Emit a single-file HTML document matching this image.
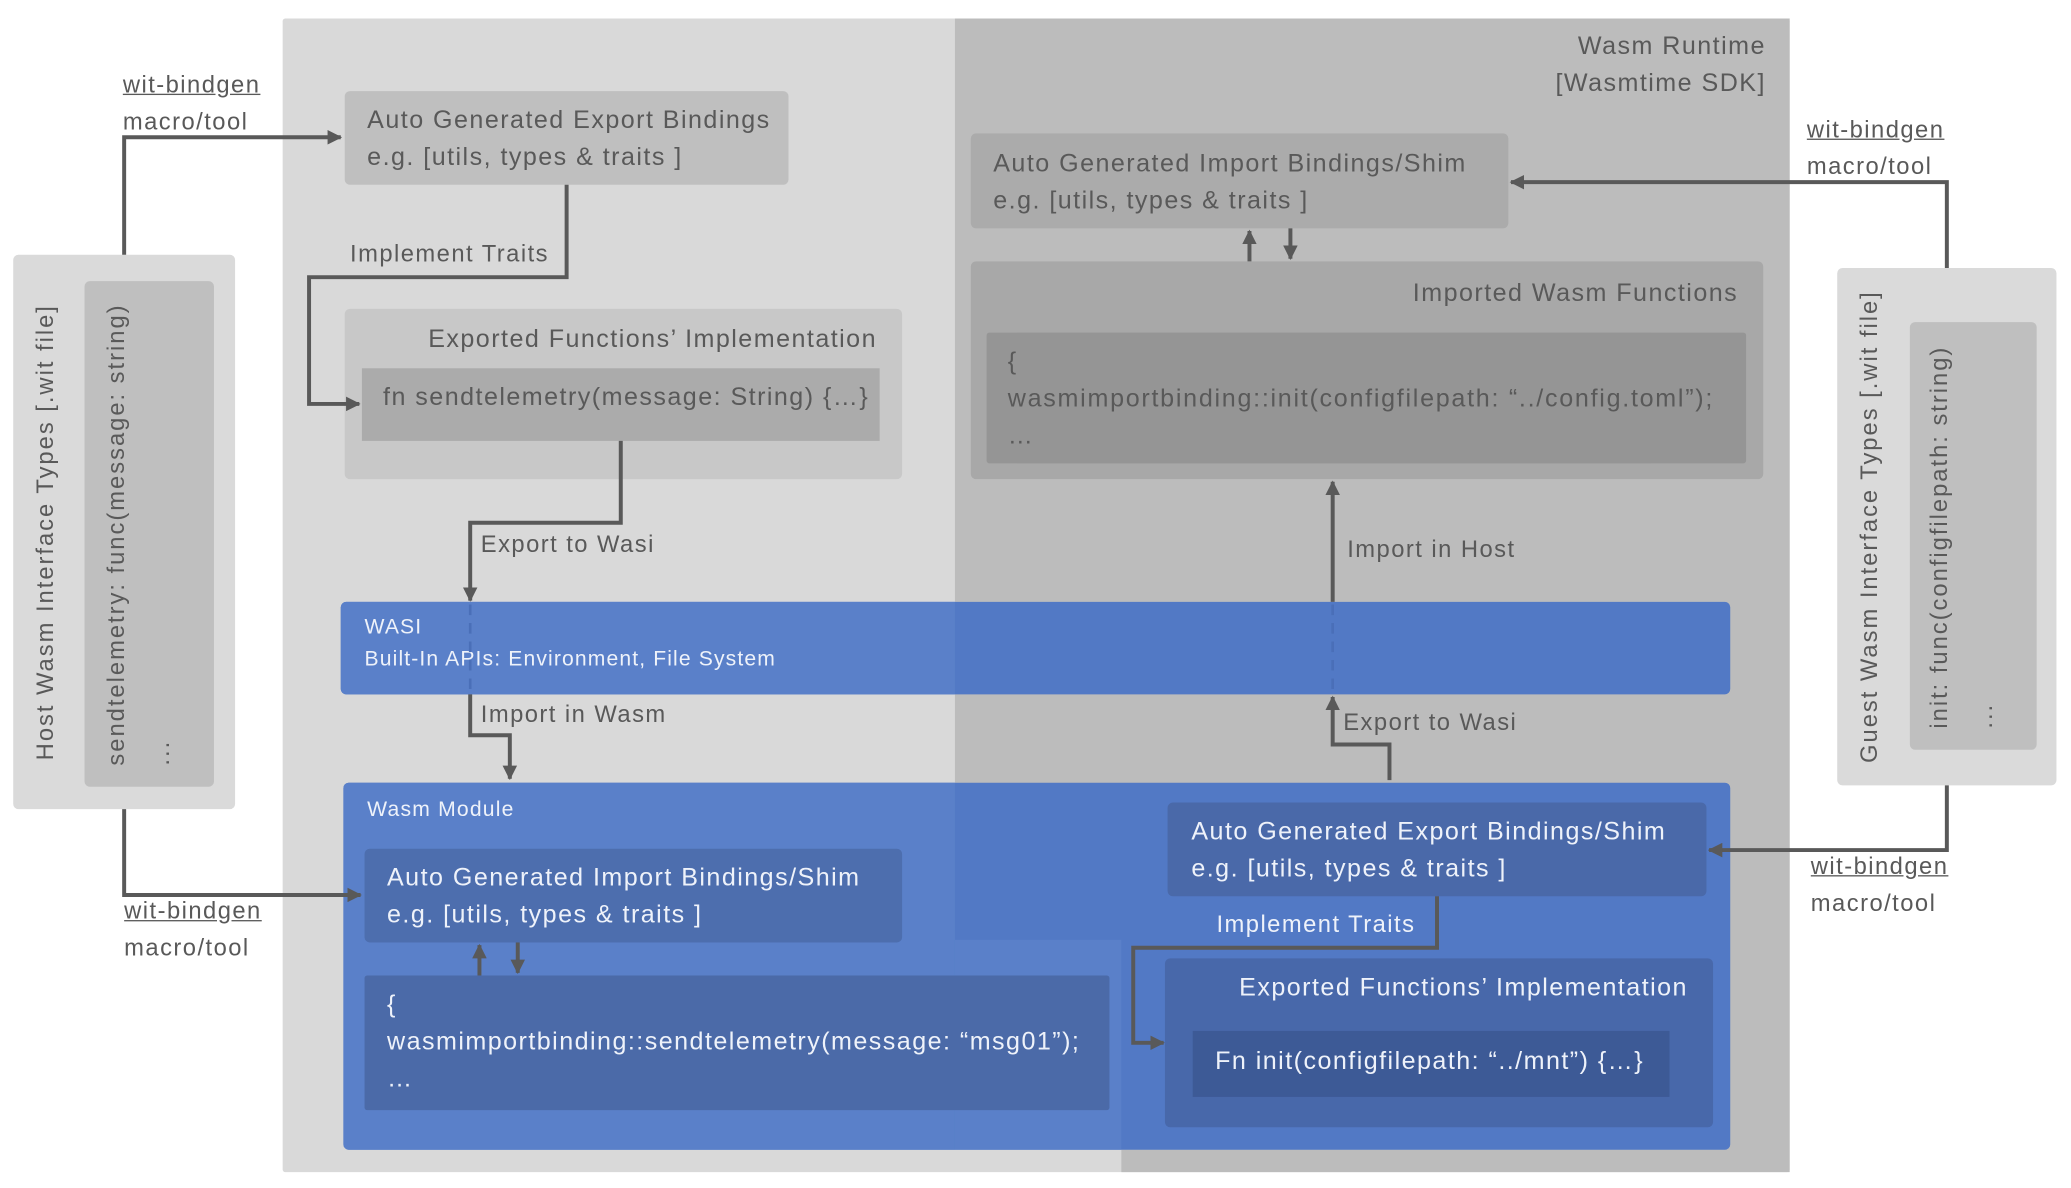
<!DOCTYPE html>
<html><head><meta charset="utf-8"><style>
body{margin:0;width:2071px;height:1188px;overflow:hidden;background:#fff;}
#c{position:absolute;left:0;top:0;width:1568px;height:900px;transform-origin:0 0;transform:scale(1.32079,1.32);font-family:"Liberation Sans",sans-serif;color:#595959;}
.b{position:absolute;border-radius:4px;}
.t{position:absolute;white-space:nowrap;font-size:18px;line-height:28px;letter-spacing:1.1px;}
.w{color:#eef2fa;}
.u{text-decoration:underline;}
.rot{position:absolute;transform:rotate(-90deg);transform-origin:0 0;white-space:nowrap;font-size:18px;letter-spacing:1.5px;}
</style></head><body><div id="c">
<div class="b" style="left:214px;top:14px;width:1141px;height:874px;background:#d9d9d9;border-radius:2px"></div>
<svg style="position:absolute;left:0;top:0" width="1568" height="900"><polygon points="723,14 1355,14 1355,888 849,888 849,712 723,712" fill="#bcbcbc"/></svg>

<div class="b" style="left:10px;top:193px;width:168px;height:420px;background:#dadada"></div>
<div class="b" style="left:64px;top:213px;width:98px;height:383px;background:#bfbfbf"></div>
<div class="rot" style="left:24px;top:576px;">Host Wasm Interface Types [.wit file]</div>
<div class="rot" style="left:78px;top:580px;">sendtelemetry: func(message: string)</div>
<div class="rot" style="left:112px;top:580px;">...</div>

<div class="b" style="left:1391px;top:203px;width:166px;height:392px;background:#dadada"></div>
<div class="b" style="left:1446px;top:244px;width:96px;height:324px;background:#bfbfbf"></div>
<div class="rot" style="left:1405px;top:578px;">Guest Wasm Interface Types [.wit file]</div>
<div class="rot" style="left:1458px;top:552px;">init: func(configfilepath: string)</div>
<div class="rot" style="left:1492px;top:552px;">...</div>

<div class="t" style="right:231px;top:22px;text-align:right;font-size:19px">Wasm Runtime<br>[Wasmtime SDK]</div>

<div class="b" style="left:261px;top:69px;width:336px;height:71px;background:#bfbfbf"></div>
<div class="t" style="left:278px;top:78px;font-size:19px">Auto Generated Export Bindings<br>e.g. [utils, types &amp; traits ]</div>
<div class="b" style="left:261px;top:234px;width:422px;height:129px;background:#c8c8c8"></div>
<div class="t" style="right:904px;top:244px;font-size:19px">Exported Functions’ Implementation</div>
<div class="b" style="left:274px;top:279px;width:392px;height:55px;background:#ababab;border-radius:0"></div>
<div class="t" style="left:290px;top:288px;font-size:19px">fn sendtelemetry(message: String) {…}</div>

<div class="b" style="left:735px;top:101px;width:407px;height:72px;background:#ababab"></div>
<div class="t" style="left:752px;top:111px;font-size:19px">Auto Generated Import Bindings/Shim<br>e.g. [utils, types &amp; traits ]</div>
<div class="b" style="left:735px;top:198px;width:600px;height:165px;background:#a8a8a8"></div>
<div class="t" style="right:252px;top:209px;font-size:19px">Imported Wasm Functions</div>
<div class="b" style="left:747px;top:252px;width:575px;height:99px;background:#959595;border-radius:2px"></div>
<div class="t" style="left:763px;top:261px;font-size:19px;line-height:28px;letter-spacing:1.3px">{<br>wasmimportbinding::init(configfilepath: “../config.toml”);<br>…</div>

<div class="b" style="left:258px;top:456px;width:1052px;height:70px;background:#5279c5"></div>
<div class="b" style="left:258px;top:456px;width:465px;height:70px;background:#5a80c9;border-radius:4px 0 0 4px"></div>
<div class="t w" style="left:276px;top:464px;font-size:16px;line-height:24px;letter-spacing:0.85px">WASI<br>Built-In APIs: Environment, File System</div>

<div class="b" style="left:260px;top:593px;width:1050px;height:278px;background:#5279c5"></div>
<div class="b" style="left:260px;top:593px;width:463px;height:278px;background:#5a80c9;border-radius:4px 0 0 4px"></div>
<div style="position:absolute;left:723px;top:712px;width:126px;height:159px;background:#5a80c9"></div>
<div class="t w" style="left:278px;top:600px;font-size:16px;letter-spacing:0.9px">Wasm Module</div>
<div class="b" style="left:276px;top:643px;width:407px;height:71px;background:#4d6eae"></div>
<div class="t w" style="left:293px;top:652px;font-size:19px">Auto Generated Import Bindings/Shim<br>e.g. [utils, types &amp; traits ]</div>
<div class="b" style="left:276px;top:739px;width:564px;height:102px;background:#4b6aa8;border-radius:2px"></div>
<div class="t w" style="left:293px;top:748px;font-size:19px">{<br>wasmimportbinding::sendtelemetry(message: “msg01”);<br>…</div>
<div class="b" style="left:884px;top:608px;width:408px;height:71px;background:#4a69a9"></div>
<div class="t w" style="left:902px;top:617px;font-size:19px">Auto Generated Export Bindings/Shim<br>e.g. [utils, types &amp; traits ]</div>
<div class="b" style="left:882px;top:726px;width:415px;height:128px;background:#4868aa"></div>
<div class="t w" style="right:290px;top:735px;font-size:19px">Exported Functions’ Implementation</div>
<div class="b" style="left:903px;top:781px;width:361px;height:50px;background:#3d5a96;border-radius:0"></div>
<div class="t w" style="left:920px;top:791px;font-size:19px">Fn init(configfilepath: “../mnt”) {…}</div>

<svg style="position:absolute;left:0;top:0" width="1568" height="900">
<defs><marker id="a" markerWidth="11" markerHeight="11" refX="10" refY="5.5" orient="auto" markerUnits="userSpaceOnUse" viewBox="0 0 11 11"><path d="M0,0 L11,5.5 L0,11 z" fill="#595959"/></marker></defs>
<g fill="none" stroke="#595959" stroke-width="3">
<polyline points="94,193 94,104 258,104" marker-end="url(#a)"/>
<polyline points="94,613 94,678 273,678" marker-end="url(#a)"/>
<polyline points="429,140 429,210 234,210 234,306 272,306" marker-end="url(#a)"/>
<polyline points="470,334 470,396 356,396 356,455" marker-end="url(#a)"/>
<polyline points="356,526 356,557 386,557 386,590" marker-end="url(#a)"/>
<polyline points="1474,203 1474,138 1144,138" marker-end="url(#a)"/>
<polyline points="1474,595 1474,644 1294,644" marker-end="url(#a)"/>
<polyline points="946,198 946,175" marker-end="url(#a)"/>
<polyline points="977,173 977,196" marker-end="url(#a)"/>
<polyline points="1009,456 1009,365" marker-end="url(#a)"/>
<polyline points="1052,591 1052,564 1009,564 1009,528" marker-end="url(#a)"/>
<polyline points="363,739 363,716" marker-end="url(#a)"/>
<polyline points="392,714 392,737" marker-end="url(#a)"/>
<polyline points="1088,679 1088,718 858,718 858,790 881,790" marker-end="url(#a)"/>
</g>
<g stroke="#4a6fb8" stroke-width="2" stroke-dasharray="8,6"><line x1="356" y1="458" x2="356" y2="526"/><line x1="1009" y1="458" x2="1009" y2="526"/></g>
</svg>

<div class="t" style="left:93px;top:50px"><span class="u">wit-bindgen</span><br>macro/tool</div>
<div class="t" style="left:94px;top:676px"><span class="u">wit-bindgen</span><br>macro/tool</div>
<div class="t" style="left:1368px;top:84px"><span class="u">wit-bindgen</span><br>macro/tool</div>
<div class="t" style="left:1371px;top:642px"><span class="u">wit-bindgen</span><br>macro/tool</div>
<div class="t" style="left:265px;top:178px">Implement Traits</div>
<div class="t" style="left:364px;top:398px">Export to Wasi</div>
<div class="t" style="left:364px;top:527px">Import in Wasm</div>
<div class="t" style="left:1020px;top:402px">Import in Host</div>
<div class="t" style="left:1017px;top:533px">Export to Wasi</div>
<div class="t w" style="left:921px;top:686px">Implement Traits</div>
</div></body></html>
